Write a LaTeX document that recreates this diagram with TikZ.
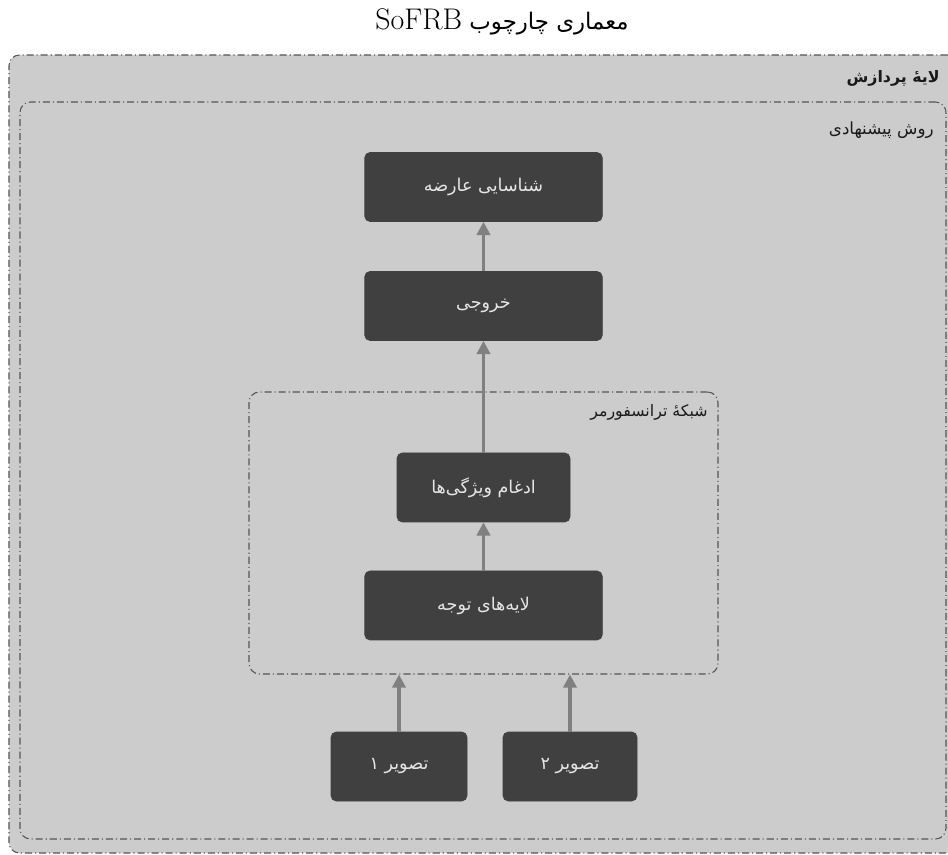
\documentclass[tikz,border=0pt]{standalone}
\usepackage{fontspec}
\newfontfamily\arabicfont[Script=Arabic]{DejaVu Sans}
\TeXXeTstate=1
\usetikzlibrary{arrows.meta}
\definecolor{blockfill}{HTML}{404040}
\definecolor{layerfill}{HTML}{CCCCCC}
\definecolor{flowgray}{HTML}{808080}
\definecolor{framegray}{HTML}{555555}
\definecolor{blocktext}{HTML}{E6E6E6}
\tikzset{
  block/.style={draw=blockfill, fill=blockfill, rounded corners=3pt, text=blocktext,
    minimum width=4.75cm, minimum height=1.38cm, inner sep=0pt,
    font=\arabicfont\fontsize{10}{12}\selectfont},
  frame/.style={draw=framegray, line width=0.6pt, rounded corners=6pt,
    dash pattern=on 4pt off 1.7pt on 0.6pt off 1.7pt, inner sep=0pt},
  framelabel/.style={anchor=east, inner sep=0pt, text=black!90,
    font=\arabicfont\fontsize{9}{11}\selectfont},
  flow/.style={draw=flowgray, line width=2.2pt, -{Triangle[width=7.5pt,length=7.5pt]}}
}
\begin{document}
\begin{tikzpicture}
  \useasboundingbox (0,0) rectangle (18.96,-17.1);
  \node[frame, fill=layerfill, minimum width=18.98cm, minimum height=15.96cm] (layer) at (9.67,-9.08) {};
  \node[frame, minimum width=18.52cm, minimum height=14.74cm] (method) at (9.66,-9.41) {};
  \node[frame, minimum width=9.38cm, minimum height=5.64cm] (transformer) at (9.67,-10.66) {};
  \node[inner sep=0pt] (title) at (10.04,-0.44)
    {\arabicfont\fontsize{13}{16}\selectfont\beginR معماری چارچوب \beginL{\rmfamily\fontsize{17}{20}\selectfont SoFRB}\endL\endR};
  \node[framelabel, font=\arabicfont\bfseries\fontsize{9}{11}\selectfont] (layerlabel) at (18.8,-1.56)
    {\beginR لایهٔ پردازش\endR};
  \node[framelabel, font=\arabicfont\fontsize{9.5}{11}\selectfont] (methodlabel) at (18.68,-2.6) {\beginR روش پیشنهادی\endR};
  \node[framelabel] (transformerlabel) at (14.16,-8.24) {\beginR شبکهٔ ترانسفورمر\endR};
  \node[block] (detect) at (9.67,-3.74) {\beginR شناسایی عارضه\endR};
  \node[block] (output) at (9.67,-6.12) {\beginR خروجی\endR};
  \node[block, minimum width=3.46cm] (fusion) at (9.67,-9.75) {\beginR ادغام ویژگی‌ها\endR};
  \node[block] (attention) at (9.67,-12.11) {\beginR لایه‌های توجه\endR};
  \node[block, minimum width=2.72cm] (image1) at (7.98,-15.33) {\beginR تصویر ۱\endR};
  \node[block, minimum width=2.68cm] (image2) at (11.4,-15.33) {\beginR تصویر ۲\endR};
  \begin{scope}[flow]
    \draw (output) -- (detect);
    \draw (fusion) -- (output);
    \draw (attention) -- (fusion);
    \draw (image1) -- (image1.north |- transformer.south);
    \draw (image2) -- (image2.north |- transformer.south);
  \end{scope}
\end{tikzpicture}
\end{document}
